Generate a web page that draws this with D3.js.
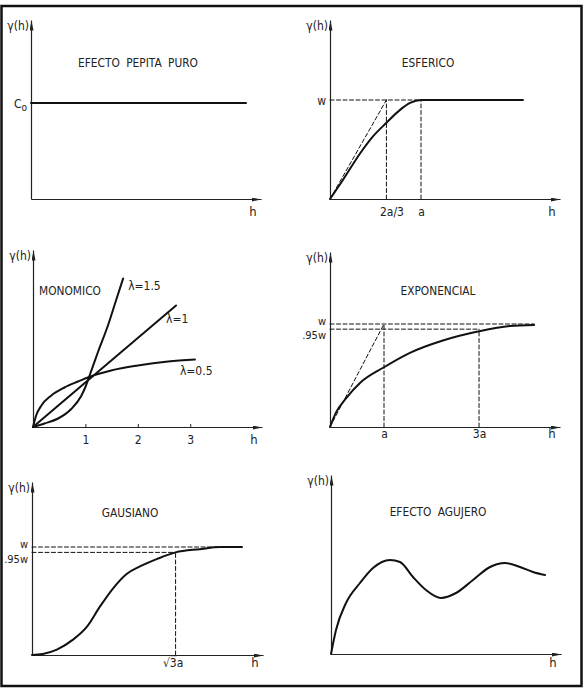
<!DOCTYPE html>
<html>
<head>
<meta charset="utf-8">
<script src="https://cdnjs.cloudflare.com/ajax/libs/d3/7.8.5/d3.min.js"></script>
<style>
  body { margin: 0; background: #fff; }
  text { font-family: "Liberation Sans Narrow", "DejaVu Sans Condensed", "Liberation Sans", sans-serif; fill: #222; }
</style>
</head>
<body>
<div id="chart"></div>
<script type="text/javascript">

// titles of the six variogram models
var titles = ["EFECTO PEPITA PURO", "ESFERICO", "MONOMICO", "EXPONENCIAL", "GAUSIANO", "EFECTO AGUJERO"];

// pure nugget
var nuggetH = [0, 21.5];
var nuggetG = [1, 1];

// spherical (h in units of a, gamma in units of w)
var sphH = [0, 0.14, 0.33, 0.47, 0.62, 0.77, 0.88, 1, 2.12];
var sphG = [0, 0.19, 0.46, 0.63, 0.77, 0.90, 0.97, 1, 1];
var sphTangentH = [0, 0.62];
var sphTangentG = [0, 1];
var sphTicks = [0.62, 1];
var sphTickLabels = ["2a/3", "a"];

// monomial
var monoTicks = [1, 2, 3];
var mono15H = [0, 0.22, 0.48, 0.73, 0.92, 1.0, 1.07, 1.24, 1.43, 1.59, 1.72];
var mono15G = [0, 0.07, 0.17, 0.36, 0.62, 0.80, 1.0, 1.5, 2.03, 2.55, 2.97];
var mono1H = [0, 2.73];
var mono1G = [0, 2.43];
var mono05H = [0, 0.06, 0.16, 0.35, 0.60, 0.86, 1.07, 1.49, 2.0, 2.58, 3.09];
var mono05G = [0, 0.23, 0.43, 0.63, 0.79, 0.91, 1.0, 1.13, 1.23, 1.31, 1.35];
var monoLabels = ["λ=1.5", "λ=1", "λ=0.5"];

// exponential
var expH = [0, 0.11, 0.30, 0.56, 1.0, 1.48, 2.09, 2.76, 3.33, 3.78];
var expG = [0, 0.14, 0.28, 0.43, 0.58, 0.72, 0.84, 0.93, 0.98, 0.99];
var expTicks = [1, 2.76];
var expTickLabels = ["a", "3a"];

// gaussian
var gauH = [0, 0.13, 0.30, 0.49, 0.66, 0.82, 0.98, 1.14, 1.30, 1.51, 1.73, 2.02, 2.27, 2.53];
var gauG = [0, 0.01, 0.05, 0.14, 0.26, 0.45, 0.62, 0.75, 0.82, 0.89, 0.95, 0.98, 1.0, 1.0];
var gauTick = 1.73;

// hole effect
var holeH = [0, 0.5, 1.5, 2.9, 4.2, 5.9, 6.9, 8.2, 9.5, 11, 12.5, 14.2, 15.9, 17.4, 18.9, 20.2, 21.4];
var holeG = [0, 2.4, 5.1, 7.1, 8.6, 9.4, 9.2, 7.7, 6.4, 5.6, 6.1, 7.4, 8.7, 9.1, 8.7, 8.2, 7.9];

var sill = [1, 0.95];

function zip(a, b) { return a.map(function(d, i) { return [d, b[i]]; }); }

var svg = d3.select("#chart").append("svg")
  .attr("width", 587).attr("height", 695);

svg.append("defs").append("marker")
  .attr("id", "arrow")
  .attr("viewBox", "0 0 10 4")
  .attr("refX", 10).attr("refY", 2)
  .attr("markerUnits", "userSpaceOnUse")
  .attr("markerWidth", 10).attr("markerHeight", 4)
  .attr("orient", "auto")
  .append("path").attr("d", "M0,0L10,2L0,4z").attr("fill", "#222");

// outer frame
svg.append("rect")
  .attr("x", 1.5).attr("y", 6).attr("width", 580).attr("height", 680)
  .attr("fill", "none").attr("stroke", "#111").attr("stroke-width", 2.5);

function panel(p) {
  var g = svg.append("g");
  var x = d3.scaleLinear().domain([0, p.xmax]).range([p.x0, p.x1]);
  var y = d3.scaleLinear().domain([0, p.ymax]).range([p.y0, p.y1]);

  var xa = d3.axisBottom(x).tickSizeOuter(0).tickSizeInner(p.tickUp ? -3 : 0)
    .tickValues(p.xt || []).tickFormat(function(d, i) { return p.xl[i]; });
  var gx = g.append("g").attr("transform", "translate(0," + p.y0 + ")").call(xa);
  gx.select(".domain").attr("stroke", "#222").attr("stroke-width", 1.2).attr("marker-end", "url(#arrow)");
  gx.selectAll(".tick line").attr("stroke", "#222");
  gx.selectAll(".tick text").attr("y", p.xly - p.y0).attr("dy", 0)
    .attr("dx", function(d, i) { return p.xdx ? p.xdx[i] : 0; })
    .style("font-size", "12px").attr("fill", "#222");

  var ya = d3.axisLeft(y).tickSize(0).tickValues(p.yt || [])
    .tickFormat(function(d, i) { return p.yl[i]; });
  var gy = g.append("g").attr("transform", "translate(" + p.x0 + ",0)").call(ya);
  gy.select(".domain").attr("stroke", "#222").attr("stroke-width", 1.2).attr("marker-end", "url(#arrow)");
  gy.selectAll(".tick text").attr("x", -4).attr("dy", function(d, i) { return (p.yd ? p.yd[i] : 0.35) + "em"; })
    .style("font-size", p.yfs || "12px").attr("fill", "#222");

  gx.selectAll("text").attr("font-family", null);
  gy.selectAll("text").attr("font-family", null);

  // h label and gamma label
  g.append("text").attr("x", x.range()[1] - 8).attr("y", p.xly).attr("text-anchor", "middle")
    .style("font-size", "13px").text("h");
  g.append("text").attr("x", p.x0 - 2).attr("y", p.y1 + 10).attr("text-anchor", "end")
    .style("font-size", "12px").text("γ(h)");

  g.append("text").attr("x", p.tx).attr("y", p.ty).attr("text-anchor", "middle")
    .style("font-size", "11.8px").style("word-spacing", "3px").attr("dy", "0.35em").text(p.title);

  p.x = x; p.y = y; p.g = g;
  return p;
}

function curve(p, pts, dashed) {
  var l = d3.line().x(function(d) { return p.x(d[0]); }).y(function(d) { return p.y(d[1]); })
    .curve(d3.curveMonotoneX);
  p.g.append("path").datum(pts).attr("d", l)
    .attr("fill", "none").attr("stroke", "#111")
    .attr("stroke-width", dashed ? 1 : 2)
    .attr("stroke-dasharray", dashed ? "4,2.5" : null)
    .attr("stroke-linecap", "round");
}

// 1. pure nugget
var p1 = panel({ x0: 31, y0: 199, x1: 261, y1: 20, xmax: 23, ymax: 1.865,
  xt: [], xl: [], xly: 216, yt: [1], yl: ["C"], tx: 138, ty: 63, title: titles[0] });
p1.g.selectAll(".tick text").append("tspan").attr("dy", "0.3em").style("font-size", "10px").text("o");
curve(p1, zip(nuggetH, nuggetG));

// 2. spherical
var p2 = panel({ x0: 330, y0: 199, x1: 560, y1: 20, xmax: 230 / 91, ymax: 179 / 99,
  xt: sphTicks, xl: sphTickLabels, xdx: [5, 0], xly: 216, yt: [1], yl: ["w"], tx: 428, ty: 63, title: titles[1] });
curve(p2, [[0, 1], [1, 1]], true);
sphTicks.forEach(function(t) { curve(p2, [[t, 0], [t, 1]], true); });
curve(p2, zip(sphTangentH, sphTangentG), true);
curve(p2, zip(sphH, sphG));

// 3. monomial
var p3 = panel({ x0: 33, y0: 427, x1: 262, y1: 250, xmax: 229 / 52.4, ymax: 177 / 50,
  xt: monoTicks, xl: ["1", "2", "3"], xly: 444, tickUp: true, yt: [], yl: [], tx: 70, ty: 291, title: titles[2] });
curve(p3, zip(mono15H, mono15G));
curve(p3, zip(mono1H, mono1G));
curve(p3, zip(mono05H, mono05G));
var monoEnds = [[mono15H[mono15H.length - 1], mono15G[mono15G.length - 1]],
                [mono1H[1], mono1G[1]], [mono05H[mono05H.length - 1], mono05G[mono05G.length - 1]]];
var monoOff = [[5, 11], [-10, 17], [-15, 15]];
monoLabels.forEach(function(t, i) {
  p3.g.append("text").attr("x", p3.x(monoEnds[i][0]) + monoOff[i][0]).attr("y", p3.y(monoEnds[i][1]) + monoOff[i][1])
    .style("font-size", "12px").text(t);
});

// 4. exponential
var p4 = panel({ x0: 330, y0: 427, x1: 560, y1: 252, xmax: 230 / 54, ymax: 175 / 103,
  xt: expTicks, xl: expTickLabels, xly: 438, yt: sill, yl: ["w", ".95w"], yd: [0.05, 0.85], yfs: "11px",
  tx: 438, ty: 291, title: titles[3] });
curve(p4, [[0, 1], [expH[expH.length - 1], 1]], true);
curve(p4, [[0, 0.95], [expTicks[1], 0.95]], true);
curve(p4, [[expTicks[0], 0], [expTicks[0], 1]], true);
curve(p4, [[expTicks[1], 0], [expTicks[1], 0.95]], true);
curve(p4, [[0, 0], [1, 1]], true);
curve(p4, zip(expH, expG));

// 5. gaussian
var p5 = panel({ x0: 32, y0: 655, x1: 263, y1: 482, xmax: 231 / 83, ymax: 173 / 108,
  xt: [gauTick], xl: [""], xly: 667, yt: sill, yl: ["w", ".95w"], yd: [0.0, 0.9], yfs: "11px",
  tx: 130, ty: 513, title: titles[4] });
var rt = p5.g.select(".tick text").attr("dx", -3);
rt.append("tspan").text("√");
rt.append("tspan").style("text-decoration", "overline").text("3");
rt.append("tspan").text("a");
curve(p5, [[0, 1], [gauH[gauH.length - 2], 1]], true);
curve(p5, [[0, 0.95], [gauTick, 0.95]], true);
curve(p5, [[gauTick, 0], [gauTick, 0.95]], true);
curve(p5, zip(gauH, gauG));

// 6. hole effect
var p6 = panel({ x0: 331, y0: 654, x1: 561, y1: 475, xmax: 23, ymax: 17.9,
  xt: [], xl: [], xly: 667, yt: [], yl: [], tx: 438, ty: 512, title: titles[5] });
curve(p6, zip(holeH, holeG));

</script>
</body>
</html>
